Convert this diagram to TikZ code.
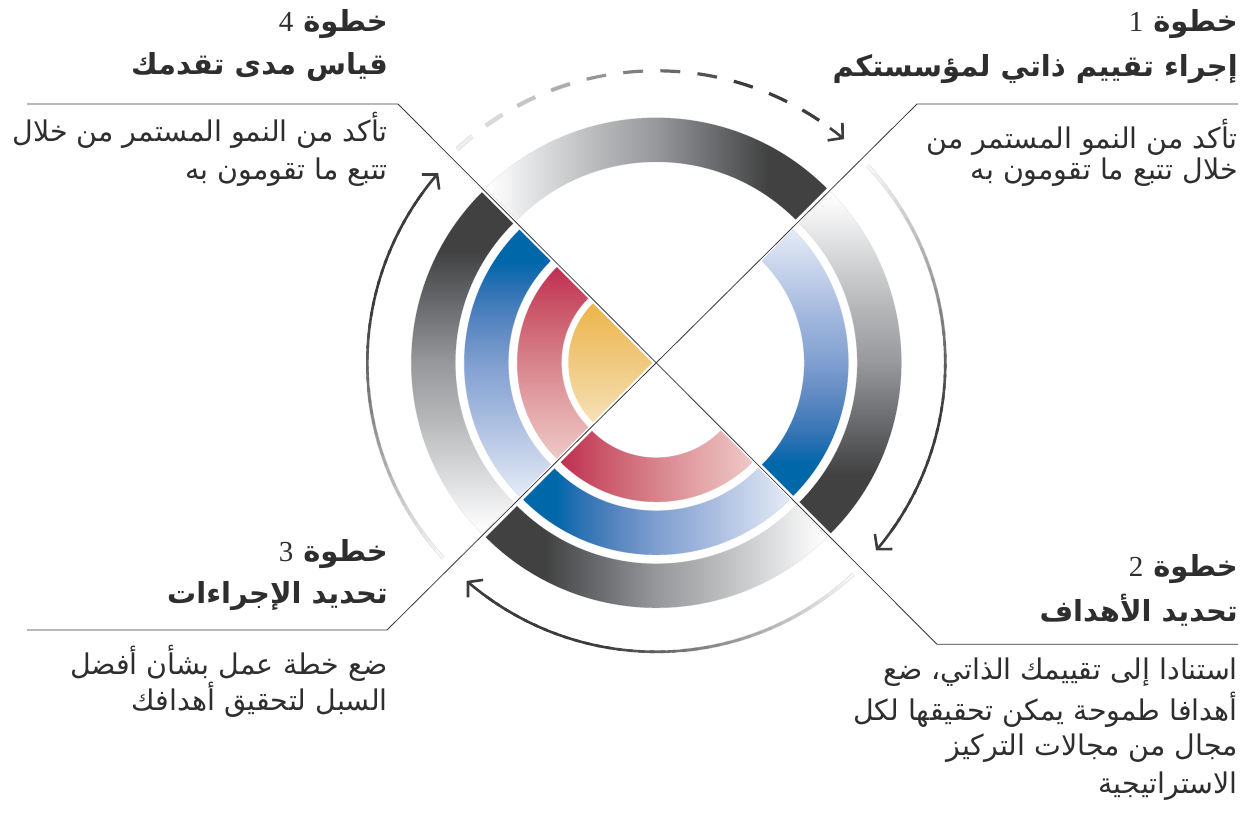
\documentclass[tikz,border=0pt]{standalone}
\usepackage{fontspec}
\usetikzlibrary{calc,arrows.meta}
\TeXXeTstate=1
\newfontfamily\arabicfont[Script=Arabic]{DejaVu Sans}
\newfontfamily\digitfont{Liberation Serif}
\definecolor{txt}{HTML}{2E2E2E}
\definecolor{adark}{HTML}{3C3C3C}
\definecolor{linec}{HTML}{3A3A3A}
\definecolor{gA}{HTML}{F4F4F5}
\definecolor{gB}{HTML}{DEDFE0}
\definecolor{gC}{HTML}{B3B4B6}
\definecolor{gD}{HTML}{97989B}
\definecolor{gE}{HTML}{77787B}
\definecolor{gF}{HTML}{555658}
\definecolor{gdark}{HTML}{414141}
\definecolor{bA}{HTML}{E4EBF6}
\definecolor{bB}{HTML}{C8D4EB}
\definecolor{bC}{HTML}{9FB5DC}
\definecolor{bD}{HTML}{7F9FD0}
\definecolor{bE}{HTML}{5B87C1}
\definecolor{bF}{HTML}{2E72B4}
\definecolor{bdark}{HTML}{0067A9}
\definecolor{rA}{HTML}{EEC8C6}
\definecolor{rB}{HTML}{E2A1A5}
\definecolor{rC}{HTML}{D57D87}
\definecolor{rD}{HTML}{CC5A6C}
\definecolor{rdark}{HTML}{BF2F52}
\definecolor{yA}{HTML}{F6E1B6}
\definecolor{yB}{HTML}{F0C97F}
\definecolor{ydark}{HTML}{ECB54C}
\definecolor{gline}{HTML}{DCDCDC}
\definecolor{bline}{HTML}{C5D4EC}
\definecolor{rline}{HTML}{E9BCBD}
\pgfdeclarehorizontalshading{greyring}{100bp}{color(0bp)=(white); color(25bp)=(white); color(28bp)=(gA); color(32.5bp)=(gB); color(42.5bp)=(gC); color(50bp)=(gD); color(56bp)=(gE); color(62.5bp)=(gF); color(66.5bp)=(gdark); color(100bp)=(gdark)}
\pgfdeclarehorizontalshading{bluering}{100bp}{color(0bp)=(bA); color(25bp)=(bA); color(32bp)=(bB); color(42bp)=(bC); color(50bp)=(bD); color(57bp)=(bE); color(64bp)=(bF); color(69bp)=(bdark); color(100bp)=(bdark)}
\pgfdeclarehorizontalshading{redring}{100bp}{color(0bp)=(rA); color(25bp)=(rA); color(40bp)=(rB); color(52bp)=(rC); color(63bp)=(rD); color(75bp)=(rdark); color(100bp)=(rdark)}
\pgfdeclarehorizontalshading{yellowpie}{100bp}{color(0bp)=(yA); color(25bp)=(yA); color(50bp)=(yB); color(75bp)=(ydark); color(100bp)=(ydark)}
\newcommand{\qring}[7]{%
  \path[draw=#7,line width=0.8pt] ($(#1)+(#2+45:#3pt)$) arc[start angle=#2+45,end angle=#2-45,radius=#3pt] -- ($(#1)+(#2-45:#4pt)$) arc[start angle=#2-45,end angle=#2+45,radius=#4pt] -- cycle;
  \shade[shading=#5,shading angle=#6] ($(#1)+(#2+45:#3pt)$) arc[start angle=#2+45,end angle=#2-45,radius=#3pt] -- ($(#1)+(#2-45:#4pt)$) arc[start angle=#2-45,end angle=#2+45,radius=#4pt] -- cycle;
}
\newcommand{\gradarrow}[3]{%
  \pgfmathsetmacro\gaend{#1+(#2-#1)*0.45}
  \draw[line width=3.6pt,draw=black!16] ($(C)+(#1:#3pt)$) arc[start angle=#1,end angle=\gaend,radius=#3pt];
  \foreach \i in {0,...,35}{
    \pgfmathsetmacro\aa{#1+(#2-#1)*0.93*\i/36}
    \pgfmathsetmacro\ab{#1+(#2-#1)*0.93*(\i+1.4)/36}
    \pgfmathsetmacro\pc{min(100,4+96*\i/24)}
    \draw[line width=2.6pt,draw=adark!\pc!white] ($(C)+(\aa:#3pt)$) arc[start angle=\aa,end angle=\ab,radius=#3pt];
  }
  \pgfmathsetmacro\ac{#1+(#2-#1)*0.92}
  \draw[arrowtip] ($(C)+(\ac:#3pt)$) arc[start angle=\ac,end angle=#2,radius=#3pt];
}
\tikzset{
  arrowtip/.style={line width=2.6pt,draw=adark,-{Straight Barb[length=10pt,width=23pt]}},
  divider/.style={draw=linec,line width=0.8pt},
  bodytext/.style={font=\arabicfont\fontsize{28.5}{33}\selectfont,text=txt,anchor=east,inner sep=0pt},
  titletext/.style={font=\arabicfont\bfseries\fontsize{29}{34}\selectfont,text=txt,anchor=east,inner sep=0pt},
}
\begin{document}
\begin{tikzpicture}[x=1pt,y=1pt]
\useasboundingbox (0,0) rectangle (1250,824);
\fill[white] (0,0) rectangle (1250,824);
\coordinate (C) at (656.3,461.2);
\coordinate (Ct) at ($(C)+(0,4)$);
\coordinate (Cr) at ($(C)+(4,0)$);
\coordinate (Cb) at ($(C)+(0,-4)$);
\coordinate (Cl) at ($(C)+(-4,0)$);
% ---- circular arrows
\foreach \i in {0,...,10}{
  \pgfmathsetmacro\aa{133-7.3*\i}
  \pgfmathsetmacro\ab{\aa-3.9}
  \pgfmathsetmacro\pc{min(100,8+92*\i/8)}
  \ifnum\i<4 \draw[line width=4.4pt,draw=black!16] ($(C)+(\aa:292pt)$) arc[start angle=\aa,end angle=\ab,radius=292pt];\fi
  \draw[line width=3.2pt,draw=adark!\pc!white] ($(C)+(\aa:292pt)$) arc[start angle=\aa,end angle=\ab,radius=292pt];
}
\draw[arrowtip] ($(C)+(53.5:292pt)$) arc[start angle=53.5,end angle=50,radius=292pt];
\gradarrow{43}{-40.5}{289}
\gradarrow{-47}{-131}{289}
\gradarrow{222.5}{139}{289}
% ---- rings: top (step 1)
\qring{Ct}{90}{197}{241}{greyring}{0}{gline}
% right (step 2)
\qring{Cr}{0}{197}{241}{greyring}{-90}{gline}
\qring{Cr}{0}{144}{188}{bluering}{-90}{bline}
% bottom (step 3)
\qring{Cb}{270}{197}{241}{greyring}{180}{gline}
\qring{Cb}{270}{144}{188}{bluering}{180}{bline}
\qring{Cb}{270}{91}{135}{redring}{180}{rline}
% left (step 4)
\qring{Cl}{180}{197}{241}{greyring}{90}{gline}
\qring{Cl}{180}{144}{188}{bluering}{90}{bline}
\qring{Cl}{180}{91}{135}{redring}{90}{rline}
\shade[shading=yellowpie,shading angle=90] (Cl) -- ($(Cl)+(135:84pt)$) arc[start angle=135,end angle=225,radius=84pt] -- cycle;
% ---- dividers
\coordinate (tlEnd) at (27,720);
\coordinate (tlKnee) at (398,720);
\coordinate (brKnee) at (937,179.7);
\coordinate (brEnd) at (1238,179.7);
\coordinate (trEnd) at (1238,720);
\coordinate (trKnee) at (917,720);
\coordinate (blKnee) at (387,194);
\coordinate (blEnd) at (27,194);
\draw[divider] (tlEnd) -- (tlKnee) -- (brKnee) -- (brEnd);
\draw[divider] (trEnd) -- (trKnee) -- (blKnee) -- (blEnd);
% ---- step 1
\node[titletext] (s1t) at (1238,800) {\beginR خطوة {\digitfont\mdseries 1}\endR};
\node[titletext] (s1h) at (1238,755) {\beginR إجراء تقييم ذاتي لمؤسستكم\endR};
\node[bodytext] (s1a) at (1238,687) {\beginR تأكد من النمو المستمر من\endR};
\node[bodytext] (s1b) at (1238,652) {\beginR خلال تتبع ما تقومون به\endR};
% ---- step 4
\node[titletext] (s4t) at (388,800) {\beginR خطوة {\digitfont\mdseries 4}\endR};
\node[titletext] (s4h) at (388,757) {\beginR قياس مدى تقدمك\endR};
\node[bodytext] (s4a) at (388,694) {\beginR تأكد من النمو المستمر من خلال\endR};
\node[bodytext] (s4b) at (388,652) {\beginR تتبع ما تقومون به\endR};
% ---- step 3
\node[titletext] (s3t) at (388,270) {\beginR خطوة {\digitfont\mdseries 3}\endR};
\node[titletext] (s3h) at (388,228) {\beginR تحديد الإجراءات\endR};
\node[bodytext] (s3a) at (388,161) {\beginR ضع خطة عمل بشأن أفضل\endR};
\node[bodytext] (s3b) at (388,124) {\beginR السبل لتحقيق أهدافك\endR};
% ---- step 2
\node[titletext] (s2t) at (1238,255) {\beginR خطوة {\digitfont\mdseries 2}\endR};
\node[titletext] (s2h) at (1238,214) {\beginR تحديد الأهداف\endR};
\node[bodytext] (s2a) at (1238,152) {\beginR استنادا إلى تقييمك الذاتي، ضع\endR};
\node[bodytext] (s2b) at (1238,114) {\beginR أهدافا طموحة يمكن تحقيقها لكل\endR};
\node[bodytext] (s2c) at (1238,76) {\beginR مجال من مجالات التركيز\endR};
\node[bodytext] (s2d) at (1238,38) {\beginR الاستراتيجية\endR};
\end{tikzpicture}
\end{document}
